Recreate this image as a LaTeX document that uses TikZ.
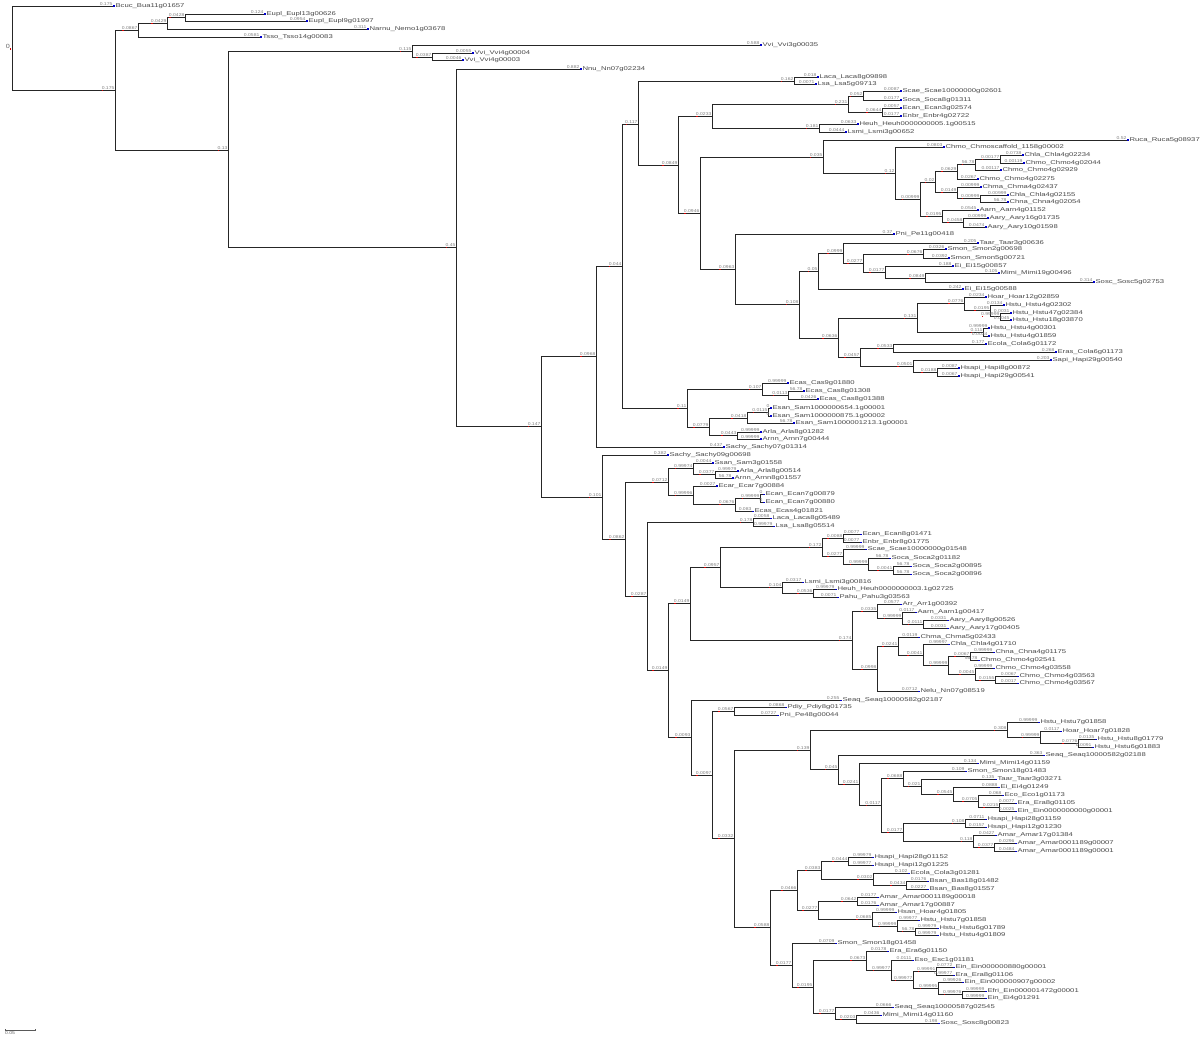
\documentclass[tikz,border=0pt]{standalone}
\usepackage{fontspec}
\newfontfamily\fLen[FakeStretch=1.2]{Liberation Sans}
\newfontfamily\fNam[FakeStretch=1.4]{Liberation Sans}
\tikzset{
 br/.style={line width=0.85pt, draw=black!85},
 blen/.style={anchor=south east, inner sep=0pt, outer sep=0pt, font=\fLen\fontsize{4.2}{4.2}\selectfont, text=black!50, yshift=0.7pt, xshift=-0.6pt},
 lname/.style={anchor=west, inner sep=0pt, font=\fNam\fontsize{5.5}{5.5}\selectfont, text=black!72, xshift=2.4pt, yshift=-0.3pt},
 rmk/.style={fill=red!85!black},
 bmk/.style={fill=blue!80!black}
}
\newcommand\IN[5]{\coordinate (#1) at (#2,#3); \draw[br] (#4) |- (#1); \node[blen] (t#1) at (#1) {#5}; \fill[rmk] ([xshift=0.5pt,yshift=-0.4pt]t#1.south west) rectangle ++(1.2pt,-1.5pt);}
\newcommand\LF[6]{\coordinate (#1) at (#2,#3); \draw[br] (#4) |- (#1); \node[blen] at (#1) {#5}; \fill[bmk] ([xshift=0.3pt,yshift=0.5pt]#1) rectangle ++(2pt,-1.2pt); \node[lname] at (#1) {#6};}
\begin{document}
\begin{tikzpicture}[x=1pt,y=-1pt]
\useasboundingbox (0,0) rectangle (1200,1040);
\coordinate (r) at (12,48);
\node[anchor=east, inner sep=0pt, font=\fLen\fontsize{6}{6}\selectfont, text=black!60] (tr) at (10,46.5) {0};
\fill[rmk] (9.5,48) rectangle ++(1.5pt,-1.6pt);
% ---- outgroups
\IN{n1}{115}{90}{r}{0.175}
\LF{a1}{113}{6}{r}{0.175}{Bcuc\_Bua11g01657}
\IN{n2}{138}{30}{n1}{0.0867}
\IN{n3}{167}{23}{n2}{0.0429}
\IN{n4}{185}{17}{n3}{0.0428}
\LF{a2}{264}{14}{n4}{0.124}{Eupl\_Eupl13g00626}
\LF{a3}{306}{21}{n4}{0.0954}{Eupl\_Eupl9g01997}
\LF{a4}{367}{29}{n3}{0.311}{Narnu\_Nemo1g03678}
\LF{a5}{260}{37}{n2}{0.0581}{Tsso\_Tsso14g00083}
\IN{n5}{228}{150}{n1}{0.13}
\IN{n6}{412}{51}{n5}{0.115}
\LF{a6}{760}{45}{n6}{0.588}{Vvi\_Vvi3g00035}
\IN{n7}{432}{57}{n6}{0.0387}
\LF{a7}{472}{53}{n7}{0.0055}{Vvi\_Vvi4g00004}
\LF{a8}{462}{60}{n7}{0.0046}{Vvi\_Vvi4g00003}
\IN{n8}{456}{247}{n5}{0.45}
\LF{a9}{580}{69}{n8}{0.882}{Nnu\_Nn07g02234}
\IN{n9}{541}{426}{n8}{0.147}
\IN{n10}{596}{356}{n9}{0.0968}
\IN{n11}{622}{266}{n10}{0.044}
\IN{n12}{638}{124}{n11}{0.117}
\IN{n13}{794}{81}{n12}{0.162}
\LF{b1}{817}{77}{n13}{0.018}{Laca\_Laca8g09898}
\LF{b2}{815}{84}{n13}{0.0071}{Lsa\_Lsa5g09713}
\IN{n14}{678}{165}{n12}{0.0849}
\IN{n15}{712}{116}{n14}{0.0233}
\IN{n16}{848}{104}{n15}{0.231}
\IN{n17}{863}{96}{n16}{0.052}
\LF{b3}{900}{91}{n17}{0.0087}{Scae\_Scae10000000g02601}
\LF{b4}{900}{100}{n17}{0.0177}{Soca\_Soca8g01311}
\IN{n18}{882}{112}{n16}{0.0644}
\LF{b5}{900}{108}{n18}{0.0057}{Ecan\_Ecan3g02574}
\LF{b6}{900}{116}{n18}{0.0177}{Enbr\_Enbr4g02722}
\IN{n19}{819}{128}{n15}{0.181}
\LF{b7}{857}{124}{n19}{0.0633}{Heuh\_Heuh0000000005.1g00515}
\LF{b8}{845}{132}{n19}{0.0444}{Lsmi\_Lsmi3g00652}
\IN{n20}{700}{213}{n14}{0.0946}
\IN{n21}{823}{157}{n20}{0.035}
\LF{b9}{1127}{140}{n21}{0.52}{Ruca\_Ruca5g08937}
\IN{n22}{895}{173}{n21}{0.12}
\LF{b10}{943}{147}{n22}{0.0803}{Chmo\_Chmoscaffold\_1158g00002}
\IN{n23}{920}{199}{n22}{0.00999}
\IN{n24}{935}{182}{n23}{0.02}
\IN{n25}{957}{171}{n24}{0.0629}
\IN{n26}{975}{164}{n25}{56.78}
\IN{n27}{1000}{159}{n26}{0.00177}
\LF{b11}{1022}{155}{n27}{0.0738}{Chla\_Chla4g02234}
\LF{b12}{1023}{163}{n27}{0.00119}{Chmo\_Chmo4g02044}
\LF{b13}{1000}{170}{n26}{0.00117}{Chmo\_Chmo4g02929}
\LF{b14}{977}{179}{n25}{0.0267}{Chmo\_Chmo4g02275}
\IN{n28}{957}{192}{n24}{0.0149}
\LF{b15}{980}{187}{n28}{0.00999}{Chma\_Chma4g02437}
\IN{n29}{980}{198}{n28}{0.00999}
\LF{b16}{1007}{195}{n29}{0.00999}{Chla\_Chla4g02155}
\LF{b17}{1007}{202}{n29}{56.78}{Chna\_Chna4g02054}
\IN{n30}{942}{216}{n23}{0.0195}
\LF{b18}{977}{210}{n30}{0.0545}{Aarn\_Aarn4g01152}
\IN{n31}{963}{222}{n30}{0.0458}
\LF{b19}{987}{218}{n31}{0.00999}{Aary\_Aary16g01735}
\LF{b20}{985}{227}{n31}{0.0474}{Aary\_Aary10g01598}
\IN{n32}{735}{269}{n20}{0.0963}
\LF{b21}{893}{234}{n32}{0.37}{Pni\_Pe11g00418}
\IN{n33}{799}{304}{n32}{0.108}
\IN{n34}{818}{271}{n33}{0.05}
\IN{n35}{843}{253}{n34}{0.0999}
\LF{b22}{977}{243}{n35}{0.205}{Taar\_Taar3g00636}
\IN{n36}{863}{263}{n35}{0.0277}
\IN{n37}{923}{254}{n36}{0.0676}
\LF{b23}{945}{249}{n37}{0.0326}{Smon\_Smon2g00698}
\LF{b24}{948}{258}{n37}{0.0392}{Smon\_Smon5g00721}
\IN{n38}{885}{272}{n36}{0.0177}
\LF{b25}{952}{266}{n38}{0.188}{Ei\_Ei15g00857}
\IN{n39}{925}{278}{n38}{0.0849}
\LF{b26}{998}{273}{n39}{0.105}{Mimi\_Mimi19g00496}
\LF{b27}{1093}{282}{n39}{0.314}{Sosc\_Sosc5g02753}
\LF{b28}{962}{289}{n34}{0.242}{Ei\_Ei15g00588}
\IN{n40}{838}{338}{n33}{0.0636}
\IN{n41}{917}{318}{n40}{0.131}
\IN{n42}{964}{303}{n41}{0.0776}
\LF{b29}{985}{297}{n42}{0.0234}{Hoar\_Hoar12g02859}
\IN{n43}{990}{310}{n42}{0.0195}
\LF{b30}{1003}{305}{n43}{0.0134}{Hstu\_Hstu4g02302}
\IN{n44}{1000}{316}{n43}{0.99999}
\LF{b31}{1010}{313}{n44}{0.0031}{Hstu\_Hstu47g02384}
\LF{b32}{1010}{320}{n44}{0.0045}{Hstu\_Hstu18g03870}
\IN{n45}{983}{332}{n41}{0.111}
\LF{b33}{988}{328}{n45}{0.99999}{Hstu\_Hstu4g00301}
\LF{b34}{988}{336}{n45}{0.0034}{Hstu\_Hstu4g01859}
\IN{n46}{860}{357}{n40}{0.0457}
\IN{n47}{893}{348}{n46}{0.0533}
\LF{b35}{985}{344}{n47}{0.177}{Ecola\_Cola6g01172}
\LF{b36}{1055}{352}{n47}{0.268}{Eras\_Cola6g01173}
\IN{n48}{913}{366}{n46}{0.0501}
\LF{b37}{1050}{360}{n48}{0.203}{Sapi\_Hapi29g00540}
\IN{n49}{937}{372}{n48}{0.0188}
\LF{b38}{958}{368}{n49}{0.0087}{Hsapi\_Hapi8g00872}
\LF{b39}{958}{376}{n49}{0.0067}{Hsapi\_Hapi29g00541}
\IN{n50}{687}{408}{n11}{0.11}
\IN{n51}{762}{389}{n50}{0.107}
\LF{c1}{787}{383}{n51}{0.99999}{Ecas\_Cas9g01880}
\IN{n52}{788}{395}{n51}{0.0113}
\LF{c2}{803}{391}{n52}{56.78}{Ecas\_Cas8g01308}
\LF{c3}{817}{399}{n52}{0.0426}{Ecas\_Cas8g01388}
\IN{n53}{709}{427}{n50}{0.0779}
\IN{n54}{747}{418}{n53}{0.0418}
\IN{n55}{768}{412}{n54}{0.0115}
\LF{c4}{770}{408}{n55}{0}{Esan\_Sam1000000654.1g00001}
\LF{c5}{770}{416}{n55}{0}{Esan\_Sam1000000875.1g00002}
\LF{c6}{793}{423}{n54}{56.78}{Esan\_Sam1000001213.1g00001}
\IN{n56}{737}{435}{n53}{0.0443}
\LF{c7}{760}{432}{n56}{0.99999}{Arla\_Arla8g01282}
\LF{c8}{760}{439}{n56}{0.99999}{Arnn\_Arnn7g00444}
\LF{c9}{723}{447}{n10}{0.437}{Sachy\_Sachy07g01314}
% ---- lower half
\IN{n57}{602}{497}{n9}{0.101}
\LF{c10}{667}{455}{n57}{0.382}{Sachy\_Sachy09g00698}
\IN{n58}{625}{539}{n57}{0.0862}
\IN{n59}{668}{482}{n58}{0.0712}
\IN{n60}{693}{468}{n59}{0.99974}
\LF{c11}{712}{463}{n60}{0.0044}{Ssan\_Sam3g01558}
\IN{n61}{715}{474}{n60}{0.0377}
\LF{c12}{737}{471}{n61}{0.99979}{Arla\_Arla8g00514}
\LF{c13}{732}{478}{n61}{56.78}{Arnn\_Arnn8g01557}
\IN{n62}{693}{495}{n59}{0.99996}
\LF{c14}{716}{486}{n62}{0.0027}{Ecar\_Ecar7g00884}
\IN{n63}{735}{504}{n62}{0.0676}
\IN{n64}{760}{498}{n63}{0.99999}
\LF{c15}{763}{494}{n64}{0}{Ecan\_Ecan7g00879}
\LF{c16}{763}{502}{n64}{0}{Ecan\_Ecan7g00880}
\LF{c17}{752}{511}{n63}{0.083}{Ecas\_Ecas4g01821}
\IN{n65}{647}{596}{n58}{0.0287}
\IN{n66}{753}{522}{n65}{0.178}
\LF{c18}{770}{518}{n66}{0.0058}{Laca\_Laca8g05489}
\LF{c19}{773}{526}{n66}{0.99979}{Lsa\_Lsa8g05514}
\IN{n67}{668}{670}{n65}{0.0149}
\IN{n68}{690}{603}{n67}{0.0149}
\IN{n69}{720}{567}{n68}{0.0957}
\IN{n70}{822}{547}{n69}{0.172}
\IN{n71}{843}{538}{n70}{0.0088}
\LF{d1}{860}{534}{n71}{0.0077}{Ecan\_Ecan8g01471}
\LF{d2}{860}{542}{n71}{0.0077}{Enbr\_Enbr8g01775}
\IN{n72}{843}{556}{n70}{0.0277}
\LF{d3}{865}{549}{n72}{0.99999}{Scae\_Scae10000000g01548}
\IN{n73}{868}{564}{n72}{0.99999}
\LF{d4}{889}{558}{n73}{56.78}{Soca\_Soca2g01182}
\IN{n74}{893}{570}{n73}{0.0041}
\LF{d5}{910}{566}{n74}{56.78}{Soca\_Soca2g00895}
\LF{d6}{910}{574}{n74}{56.78}{Soca\_Soca2g00896}
\IN{n75}{782}{587}{n69}{0.104}
\LF{d7}{802}{582}{n75}{0.0317}{Lsmi\_Lsmi3g00816}
\IN{n76}{813}{593}{n75}{0.0536}
\LF{d8}{835}{589}{n76}{0.99979}{Heuh\_Heuh0000000003.1g02725}
\LF{d9}{837}{597}{n76}{0.0071}{Pahu\_Pahu3g03563}
\IN{n77}{852}{640}{n68}{0.174}
\IN{n78}{877}{611}{n77}{0.0335}
\LF{d10}{900}{604}{n78}{0.0577}{Arr\_Arr1g00392}
\IN{n79}{902}{618}{n78}{0.99999}
\LF{d11}{915}{612}{n79}{0.0117}{Aarn\_Aarn1g00417}
\IN{n80}{923}{624}{n79}{0.0111}
\LF{d12}{947}{620}{n80}{0.0331}{Aary\_Aary8g00526}
\LF{d13}{947}{628}{n80}{0.0031}{Aary\_Aary17g00405}
\IN{n81}{877}{669}{n77}{0.0998}
\IN{n82}{898}{646}{n81}{0.0241}
\LF{d14}{918}{637}{n82}{0.0119}{Chma\_Chma5g02433}
\IN{n83}{923}{655}{n82}{0.0041}
\LF{d15}{948}{644}{n83}{0.99997}{Chla\_Chla4g01710}
\IN{n84}{948}{665}{n83}{0.99999}
\IN{n85}{970}{656}{n84}{0.0067}
\LF{d16}{993}{652}{n85}{0.99999}{Chna\_Chna4g01175}
\LF{d17}{978}{660}{n85}{56.78}{Chmo\_Chmo4g02541}
\IN{n86}{975}{674}{n84}{0.0045}
\LF{d18}{993}{668}{n86}{0.99999}{Chmo\_Chmo4g03558}
\IN{n87}{995}{680}{n86}{0.0155}
\LF{d19}{1017}{676}{n87}{0.0067}{Chmo\_Chmo4g03563}
\LF{d20}{1017}{683}{n87}{0.0017}{Chmo\_Chmo4g03567}
\LF{d21}{918}{691}{n81}{0.0712}{Nelu\_Nn07g08519}
\IN{n88}{691}{737}{n67}{0.0093}
\LF{e1}{840}{700}{n88}{0.255}{Seaq\_Seaq10000582g02187}
\IN{n89}{712}{775}{n88}{0.0097}
\IN{n90}{734}{711}{n89}{0.0567}
\LF{e2}{785}{707}{n90}{0.0868}{Pdiy\_Pdiy8g01735}
\LF{e3}{777}{715}{n90}{0.0727}{Pni\_Pe48g00044}
\IN{n91}{734}{838}{n89}{0.0332}
\IN{n92}{810}{750}{n91}{0.139}
\IN{n93}{1007}{730}{n92}{0.308}
\LF{e4}{1038}{722}{n93}{0.99999}{Hstu\_Hstu7g01858}
\IN{n94}{1040}{737}{n93}{0.99999}
\LF{e5}{1060}{731}{n94}{0.0117}{Hoar\_Hoar7g01828}
\IN{n95}{1078}{743}{n94}{0.0776}
\LF{e6}{1095}{739}{n95}{0.0135}{Hstu\_Hstu8g01779}
\LF{e7}{1092}{747}{n95}{0.0091}{Hstu\_Hstu6g01883}
\IN{n96}{838}{769}{n92}{0.045}
\LF{e8}{1043}{755}{n96}{0.363}{Seaq\_Seaq10000582g02188}
\IN{n97}{859}{784}{n96}{0.0241}
\LF{e9}{977}{763}{n97}{0.134}{Mimi\_Mimi14g01159}
\IN{n98}{881}{805}{n97}{0.0117}
\IN{n99}{903}{778}{n98}{0.0688}
\LF{e10}{965}{771}{n99}{0.109}{Smon\_Smon18g01483}
\IN{n100}{921}{786}{n99}{0.021}
\LF{e11}{995}{779}{n100}{0.135}{Taar\_Taar3g03271}
\IN{n101}{953}{794}{n100}{0.0545}
\LF{e12}{998}{787}{n101}{0.0888}{Ei\_Ei4g01249}
\IN{n102}{978}{801}{n101}{0.0705}
\LF{e13}{1002}{795}{n102}{0.068}{Eco\_Eco1g01173}
\IN{n103}{999}{807}{n102}{0.0215}
\LF{e14}{1015}{803}{n103}{0.0077}{Era\_Era8g01105}
\LF{e15}{1015}{811}{n103}{0.0025}{Ein\_Ein0000000000g00001}
\IN{n104}{903}{832}{n98}{0.0177}
\IN{n105}{965}{823}{n104}{0.108}
\LF{e16}{985}{819}{n105}{0.0711}{Hsapi\_Hapi28g01159}
\LF{e17}{985}{827}{n105}{0.0157}{Hsapi\_Hapi12g01230}
\IN{n106}{973}{841}{n104}{0.118}
\LF{e18}{995}{835}{n106}{0.0427}{Amar\_Amar17g01384}
\IN{n107}{994}{847}{n106}{0.0377}
\LF{e19}{1015}{843}{n107}{0.0296}{Amar\_Amar0001189g00007}
\LF{e20}{1015}{851}{n107}{0.0484}{Amar\_Amar0001189g00001}
\IN{n108}{770}{927}{n91}{0.0588}
\IN{n109}{797}{890}{n108}{0.0466}
\IN{n110}{821}{870}{n109}{0.0383}
\IN{n111}{848}{861}{n110}{0.0444}
\LF{f1}{872}{857}{n111}{0.99979}{Hsapi\_Hapi28g01152}
\LF{f2}{872}{865}{n111}{0.99977}{Hsapi\_Hapi12g01225}
\IN{n112}{873}{879}{n110}{0.0302}
\LF{f3}{908}{873}{n112}{0.102}{Ecola\_Cola3g01281}
\IN{n113}{906}{885}{n112}{0.0434}
\LF{f4}{927}{881}{n113}{0.0176}{Bsan\_Bas18g01482}
\LF{f5}{927}{889}{n113}{0.0227}{Bsan\_Bas8g01557}
\IN{n114}{818}{910}{n109}{0.0277}
\IN{n115}{857}{901}{n114}{0.0642}
\LF{f6}{877}{897}{n115}{0.0177}{Amar\_Amar0001189g00018}
\LF{f7}{877}{905}{n115}{0.0176}{Amar\_Amar17g00887}
\IN{n116}{872}{919}{n114}{0.0685}
\LF{f8}{895}{912}{n116}{0.99999}{Hsan\_Hoar4g01805}
\IN{n117}{897}{926}{n116}{0.99999}
\LF{f9}{918}{920}{n117}{0.99977}{Hstu\_Hstu7g01858}
\IN{n118}{915}{931}{n117}{56.78}
\LF{f10}{937}{928}{n118}{0.99979}{Hstu\_Hstu6g01789}
\LF{f11}{937}{935}{n118}{0.99979}{Hstu\_Hstu4g01809}
\IN{n119}{792}{965}{n108}{0.0177}
\LF{f12}{835}{943}{n119}{0.0709}{Smon\_Smon18g01458}
\IN{n120}{813}{987}{n119}{0.0195}
\IN{n121}{866}{960}{n120}{0.0673}
\LF{f13}{887}{951}{n121}{0.0178}{Era\_Era6g01150}
\IN{n122}{891}{970}{n121}{0.99977}
\LF{f14}{912}{960}{n122}{0.0111}{Eso\_Esc1g01181}
\IN{n123}{913}{980}{n122}{0.99977}
\IN{n124}{936}{971}{n123}{0.99991}
\LF{f15}{953}{967}{n124}{0.0772}{Ein\_Ein000000880g00001}
\LF{f16}{953}{975}{n124}{0.99977}{Era\_Era8g01106}
\IN{n125}{938}{988}{n123}{0.99995}
\LF{f17}{962}{982}{n125}{0.99926}{Ein\_Ein000000907g00002}
\IN{n126}{962}{994}{n125}{0.99976}
\LF{f18}{985}{991}{n126}{0.99999}{Efri\_Ein000001472g00001}
\LF{f19}{985}{998}{n126}{0.99999}{Ein\_Ei4g01291}
\IN{n127}{835}{1013}{n120}{0.0177}
\LF{f20}{892}{1007}{n127}{0.0666}{Seaq\_Seaq10000587g02545}
\IN{n128}{856}{1019}{n127}{0.0203}
\LF{f21}{880}{1015}{n128}{0.0436}{Mimi\_Mimi14g01160}
\LF{f22}{938}{1023}{n128}{0.198}{Sosc\_Sosc8g00823}
% ---- scale bar
\coordinate (s1) at (5,1030);
\coordinate (s2) at (35,1030);
\draw[line width=0.6pt, black!65] (s1) -- (s2);
\draw[line width=0.5pt, black!65] ([yshift=1pt]s1) -- ([yshift=-1pt]s1);
\draw[line width=0.5pt, black!65] ([yshift=1pt]s2) -- ([yshift=-1pt]s2);
\node[anchor=north west, inner sep=0pt, font=\fLen\fontsize{4.2}{4.2}\selectfont, text=black!60] (sl) at ([yshift=-1.5pt]s1) {0.05};
\end{tikzpicture}
\end{document}
